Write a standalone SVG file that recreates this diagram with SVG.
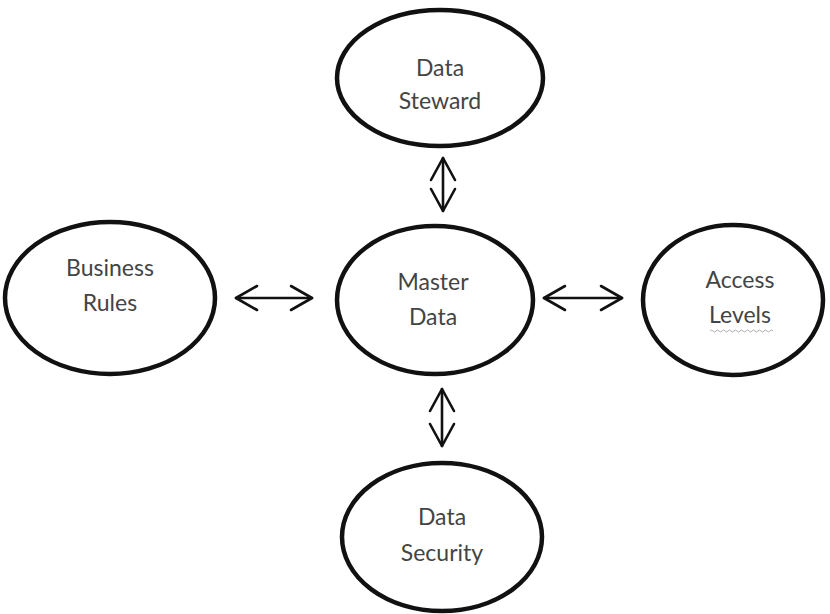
<svg xmlns="http://www.w3.org/2000/svg" width="830" height="614" viewBox="0 0 830 614">
<defs>
<style>
.node ellipse{fill:#fff;stroke:#111;stroke-width:4.5}
.node text{font-family:"Lato","Open Sans","Liberation Sans",sans-serif;font-size:23px;fill:#444;text-anchor:middle}
.conn line,.conn path{stroke:#111;stroke-width:2.6;fill:none;stroke-linecap:round;stroke-linejoin:round}
</style>
</defs>
<rect width="830" height="614" fill="#fff"/>
<g class="conn" id="connectors">
<g id="c-steward">
<line x1="443" y1="158" x2="443" y2="211"/>
<path d="M431 180 L443 158 L455 180"/>
<path d="M431 189 L443 211 L455 189"/>
</g>
<g id="c-rules">
<line x1="236" y1="298" x2="312" y2="298"/>
<path d="M257 286 L236 298 L257 310"/>
<path d="M291 286 L312 298 L291 310"/>
</g>
<g id="c-access">
<line x1="544" y1="298" x2="622" y2="298"/>
<path d="M565 286 L544 298 L565 310"/>
<path d="M601 286 L622 298 L601 310"/>
</g>
<g id="c-security">
<line x1="442" y1="389" x2="442" y2="446"/>
<path d="M430 411 L442 389 L454 411"/>
<path d="M430 424 L442 446 L454 424"/>
</g>
</g>
<g class="node" id="data-steward">
<ellipse cx="440" cy="78" rx="103" ry="68"/>
<text x="440" y="76">Data</text>
<text x="440" y="109">Steward</text>
</g>
<g class="node" id="master-data">
<ellipse cx="435" cy="300" rx="98" ry="74"/>
<text x="433" y="290">Master</text>
<text x="433" y="325">Data</text>
</g>
<g class="node" id="business-rules">
<ellipse cx="110" cy="298" rx="105" ry="76"/>
<text x="110" y="276">Business</text>
<text x="110" y="311">Rules</text>
</g>
<g class="node" id="access-levels">
<ellipse cx="733" cy="300" rx="90" ry="75"/>
<text x="740" y="288">Access</text>
<text x="740" y="323">Levels</text>
<path d="M710 331 q1.5 -2 3 0 t3 0 t3 0 t3 0 t3 0 t3 0 t3 0 t3 0 t3 0 t3 0 t3 0 t3 0 t3 0 t3 0 t3 0 t3 0 t3 0 t3 0 t3 0 t3 0 t3 0" fill="none" stroke="#999" stroke-width="0.8"/>
</g>
<g class="node" id="data-security">
<ellipse cx="442" cy="537" rx="100" ry="74"/>
<text x="442" y="525">Data</text>
<text x="442" y="561">Security</text>
</g>
</svg>
